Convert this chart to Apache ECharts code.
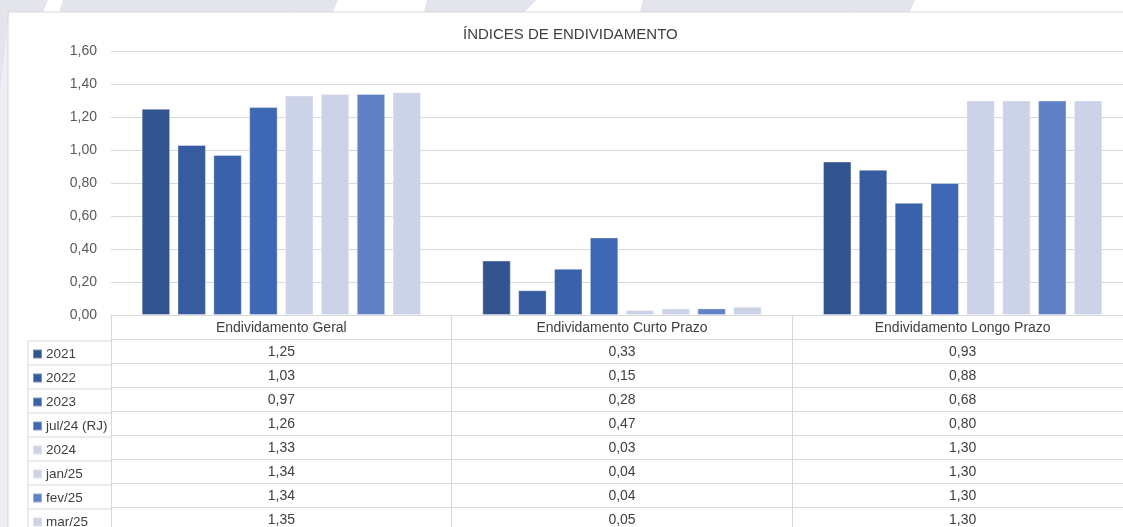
<!DOCTYPE html>
<html>
<head>
<meta charset="utf-8">
<script src="https://cdn.jsdelivr.net/npm/echarts@6/dist/echarts.min.js"></script>
<style>
  html, body { margin: 0; padding: 0; background: #fff; overflow: hidden; }
  #chart { width: 1133px; height: 527px; }
</style>
</head>
<body>
<div id="chart"></div>
<script>
// dados
var categories = ['Endividamento Geral', 'Endividamento Curto Prazo', 'Endividamento Longo Prazo'];
var seriesNames = ['2021', '2022', '2023', 'jul/24 (RJ)', '2024', 'jan/25', 'fev/25', 'mar/25'];
var v2021 = [1.25, 0.33, 0.93];
var v2022 = [1.03, 0.15, 0.88];
var v2023 = [0.97, 0.28, 0.68];
var vJul24 = [1.26, 0.47, 0.80];
var v2024 = [1.33, 0.03, 1.30];
var vJan25 = [1.34, 0.04, 1.30];
var vFev25 = [1.34, 0.04, 1.30];
var vMar25 = [1.35, 0.05, 1.30];
var seriesColors = ['#32548f', '#365b9f', '#3a62aa', '#3f68b4', '#ccd2e7', '#ccd2e7', '#6081c6', '#ccd3e8'];

var rows = [v2021, v2022, v2023, vJul24, v2024, vJan25, vFev25, vMar25];

var font = 'Liberation Sans';
var lineColor = '#d9d9d9';
var textColor = '#404040';
var gridLeft = 111, gridTop = 51, axisY = 317, rowH = 24, tableLeft = 28;

var fmt = function (v) { return v.toFixed(2).replace('.', ','); };

var chart = echarts.init(document.getElementById('chart'));

var xAxes = [{
    type: 'category',
    data: categories,
    position: 'bottom',
    axisLine: {onZero: false, lineStyle: {color: lineColor}},
    axisTick: {show: true, length: rowH * 9, lineStyle: {color: lineColor}},
    axisLabel: {interval: 0, margin: 13, verticalAlign: 'middle', color: textColor, fontSize: 14, fontFamily: font},
    splitLine: {show: false}
}];
rows.forEach(function (vals, i) {
    xAxes.push({
        type: 'category',
        data: categories,
        position: 'bottom',
        offset: rowH * (i + 1),
        axisLine: {onZero: false, lineStyle: {color: lineColor}},
        axisTick: {show: false},
        splitLine: {show: false},
        axisLabel: {
            interval: 0, margin: 13, verticalAlign: 'middle', color: textColor, fontSize: 14, fontFamily: font,
            formatter: function (val, idx) { return fmt(vals[idx]); }
        }
    });
});

var series = rows.map(function (vals, i) {
    return {
        name: seriesNames[i],
        type: 'bar',
        data: vals,
        barGap: '26%',
        barCategoryGap: '18%',
        itemStyle: {color: seriesColors[i], borderColor: 'rgba(255,255,255,0.35)', borderWidth: 1}
    };
});

// linhas da coluna da legenda
var tableLines = [{
    type: 'line',
    shape: {x1: tableLeft, y1: axisY + rowH, x2: tableLeft, y2: axisY + rowH * 9},
    style: {stroke: lineColor, lineWidth: 1}
}];
for (var k = 1; k <= 8; k++) {
    tableLines.push({
        type: 'line',
        shape: {x1: tableLeft, y1: axisY + rowH * k, x2: gridLeft, y2: axisY + rowH * k},
        style: {stroke: lineColor, lineWidth: 1}
    });
}

var bgShape = '#e3e4ec';
var decor = [
    {type: 'rect', shape: {x: 0, y: 0, width: 8, height: 527}, style: {fill: '#eeeef3'}},
    {type: 'polygon', shape: {points: [[0, 12], [9, 12], [0, 90]]}, style: {fill: bgShape}},
    {type: 'polygon', shape: {points: [[0, 0], [48, 0], [43, 12], [0, 12]]}, style: {fill: bgShape}},
    {type: 'polygon', shape: {points: [[63, 0], [338, 0], [333, 12], [59, 12]]}, style: {fill: bgShape}},
    {type: 'polygon', shape: {points: [[427, 0], [536, 0], [525, 12], [424, 12]]}, style: {fill: bgShape}},
    {type: 'polygon', shape: {points: [[643, 0], [915, 0], [910, 12], [640, 12]]}, style: {fill: bgShape}},
    {type: 'rect', shape: {x: 8, y: 12, width: 1140, height: 600}, style: {fill: null, stroke: lineColor, lineWidth: 1}}
];

chart.setOption({
    animation: false,
    backgroundColor: '#fff',
    title: {
        text: 'ÍNDICES DE ENDIVIDAMENTO',
        left: 463,
        top: 27,
        padding: 0,
        textStyle: {fontFamily: font, fontSize: 15, fontWeight: 'normal', color: textColor}
    },
    legend: {
        orient: 'vertical',
        left: 32,
        top: axisY + rowH + 1,
        height: 260,
        padding: 0,
        itemGap: 0,
        itemWidth: 9,
        itemHeight: 9,
        icon: 'rect',
        selectedMode: false,
        textStyle: {fontFamily: font, fontSize: 13.5, color: textColor, lineHeight: rowH, padding: [0, 0, 0, -1]},
        data: seriesNames
    },
    grid: {left: gridLeft, top: gridTop, right: 0, bottom: 527 - axisY},
    xAxis: xAxes,
    yAxis: {
        type: 'value',
        min: 0,
        max: 1.6,
        interval: 0.2,
        axisLine: {show: false},
        axisTick: {show: false},
        splitLine: {lineStyle: {color: lineColor}},
        axisLabel: {margin: 14, color: '#595959', fontSize: 14, fontFamily: font, formatter: fmt}
    },
    graphic: decor.concat(tableLines),
    series: series
});
</script>
</body>
</html>
